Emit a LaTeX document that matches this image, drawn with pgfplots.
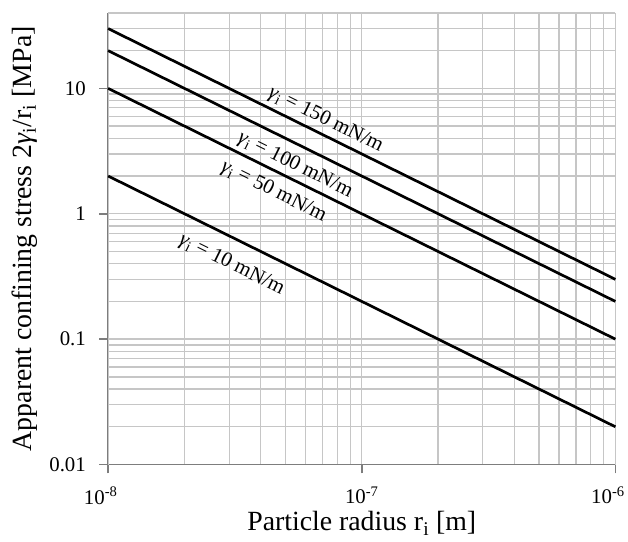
\documentclass[border=0pt]{standalone}
\usepackage{fontspec}
\setmainfont{Liberation Serif}
\usepackage{pgfplots}
\pgfplotsset{compat=1.18}
\definecolor{gridc}{RGB}{198,198,198}
\definecolor{axc}{RGB}{125,125,125}
\begin{document}
\begin{tikzpicture}
\begin{axis}[
 xmode=log, ymode=log,
 scale only axis, width=511pt, height=455pt,
 xmin=1e-8, xmax=1e-6, ymin=0.01, ymax=40,
 axis x line*=bottom, axis y line*=left,
 axis line style={axc, line width=1.5pt},
 grid=both,
 major grid style={gridc, line width=1.3pt},
 minor grid style={gridc, line width=1.3pt},
 xtick={1e-7},
 xticklabels={10\textsuperscript{-7}},
 extra x ticks={1e-8,1e-6},
 extra x tick labels={10\textsuperscript{-8},10\textsuperscript{-6}},
 extra x tick style={grid=major, xticklabel style={xshift=-7.5pt}},
 minor xtick={2e-8,3e-8,4e-8,5e-8,6e-8,7e-8,8e-8,9e-8,2e-7,3e-7,4e-7,5e-7,6e-7,7e-7,8e-7,9e-7},
 ytick={0.01,0.1,1,10},
 yticklabels={0.01,0.1,1,10},
 minor ytick={0.02,0.03,0.04,0.05,0.06,0.07,0.08,0.09,0.2,0.3,0.4,0.5,0.6,0.7,0.8,0.9,2,3,4,5,6,7,8,9,20,30,40},
 tick align=outside, major tick length=9pt, minor tick length=0pt,
 tick style={axc, line width=1.5pt},
 ticklabel style={font=\fontsize{21}{24}\selectfont},
 yticklabel style={xshift=-10pt},
 xticklabel style={yshift=-10pt},
 xlabel={Particle radius r\textsubscript{i} [m]},
 ylabel={Apparent confining stress 2\textit{γ}\textsubscript{i}/r\textsubscript{i} [MPa]},
 every axis x label/.style={at={(axis description cs:0.5,-0.147)}, anchor=base, inner sep=0pt, font=\fontsize{28}{32}\selectfont},
 every axis y label/.style={at={(axis description cs:-0.139,0.5)}, rotate=90, anchor=south, inner sep=0pt, font=\fontsize{28}{32}\selectfont},
 clip=false,
]
\addplot[black, line width=2.7pt] coordinates {(1e-8,30) (1e-6,0.3)}
  node[pos=0.416, sloped, above=4pt, inner sep=0pt, font=\fontsize{21}{24}\selectfont] {\textit{γ}\textsubscript{i} = 150 mN/m};
\addplot[black, line width=2.7pt] coordinates {(1e-8,20) (1e-6,0.2)}
  node[pos=0.386, sloped, below=9.5pt, inner sep=0pt, font=\fontsize{21}{24}\selectfont] {\textit{γ}\textsubscript{i} = 100 mN/m};
\addplot[black, line width=2.7pt] coordinates {(1e-8,10) (1e-6,0.1)}
  node[pos=0.343, sloped, below=9pt, inner sep=0pt, font=\fontsize{21}{24}\selectfont] {\textit{γ}\textsubscript{i} = 50 mN/m};
\addplot[black, line width=2.7pt] coordinates {(1e-8,2) (1e-6,0.02)}
  node[pos=0.265, sloped, below=14.5pt, inner sep=0pt, font=\fontsize{21}{24}\selectfont] {\textit{γ}\textsubscript{i} = 10 mN/m};
\path (rel axis cs:0,0) ++(-109pt,-78pt) -- (rel axis cs:1,1) -- ++(8pt,13pt);
\end{axis}
\end{tikzpicture}
\end{document}
